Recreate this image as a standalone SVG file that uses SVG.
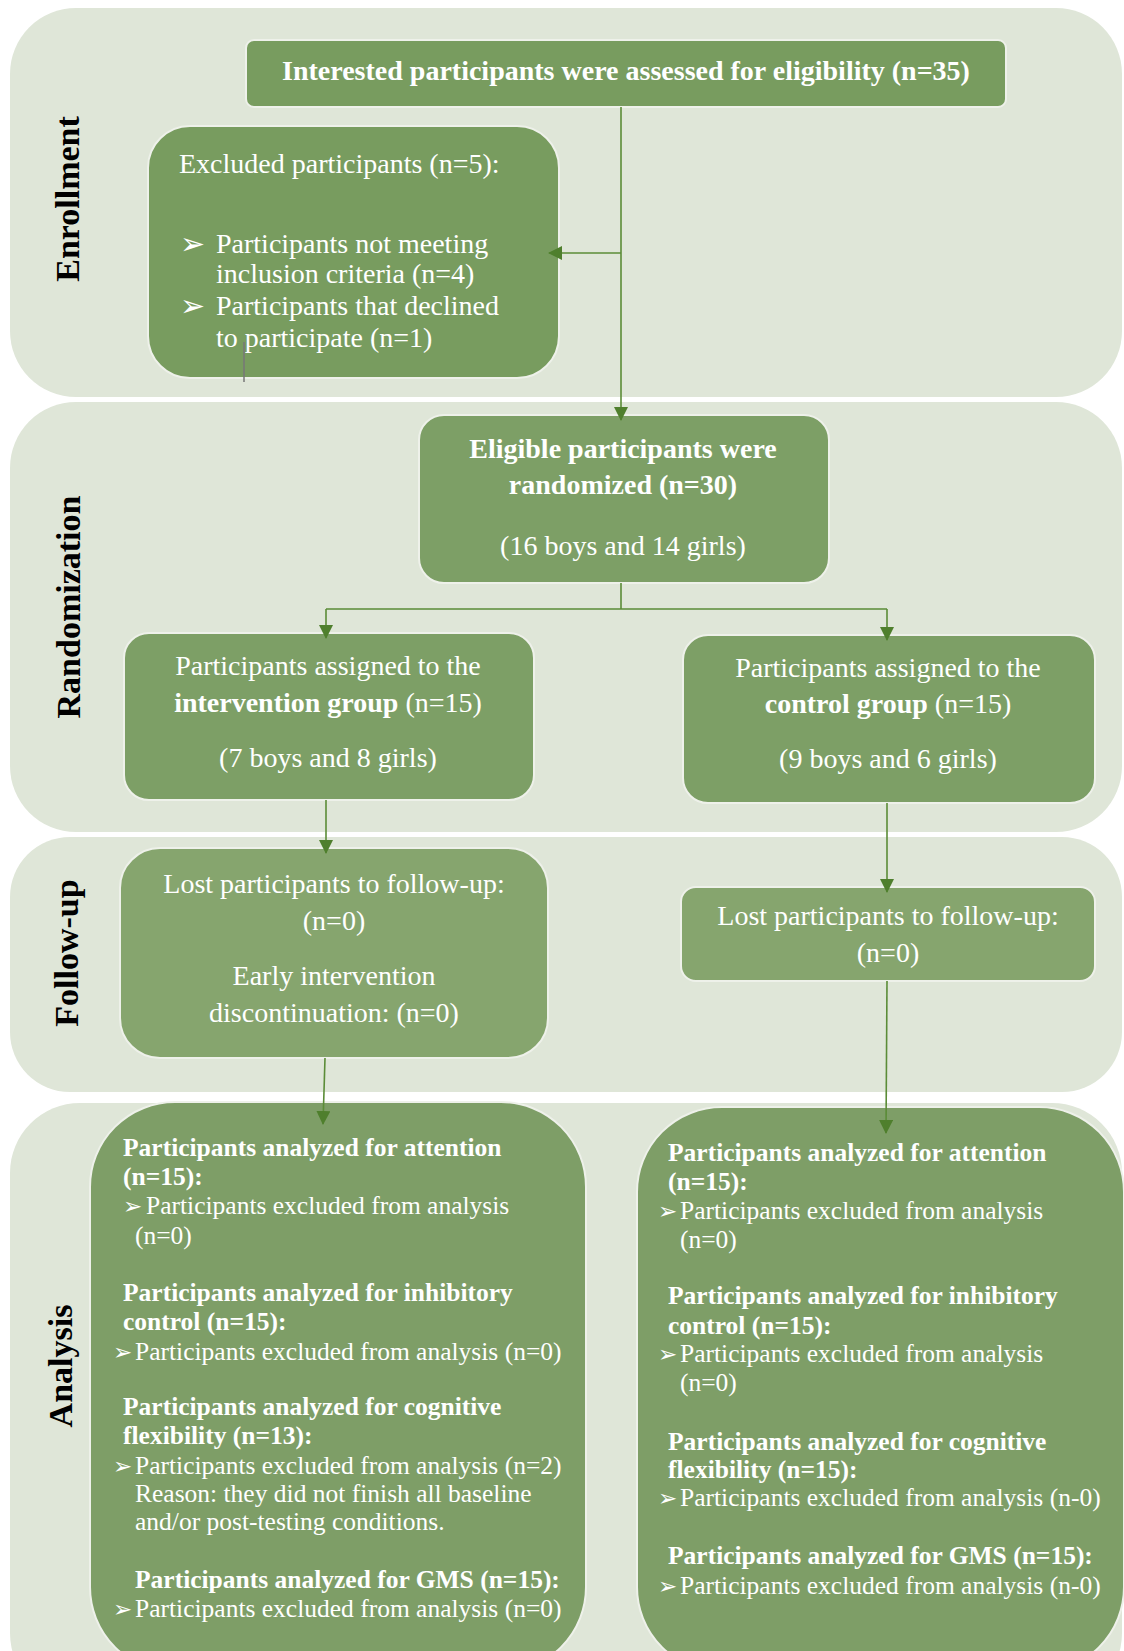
<svg xmlns="http://www.w3.org/2000/svg" width="1124" height="1651" viewBox="0 0 1124 1651">
<defs>
<style>
.band{fill:#dfe6d8}
.box{stroke:#eef1ea;stroke-width:2}
.b1{fill:#789c5f}
.b2{fill:#7d9f66}
.b3{fill:#86a56e}
.b4{fill:#7e9e67}
text{font-family:"Liberation Serif","Times New Roman",serif;fill:#ffffff}
.t28{font-size:28px}
.t25{font-size:25.5px}
.bd{font-weight:bold}
.mid{text-anchor:middle}
.side{font-family:"Liberation Serif","Times New Roman",serif;font-size:34px;font-weight:bold;fill:#000000;text-anchor:middle}
.blt{font-family:"DejaVu Sans",sans-serif}
.ln{stroke:#5b8c37;stroke-width:1.6;fill:none}
</style>
<marker id="ah" viewBox="0 0 14 14" refX="13" refY="7" markerWidth="14" markerHeight="14" markerUnits="userSpaceOnUse" orient="auto">
<path d="M0,0 L14,7 L0,14 Z" fill="#4f7f2d"/>
</marker>
</defs>
<rect width="1124" height="1651" fill="#ffffff"/>

<g id="bands">
<rect class="band" x="10" y="8" width="1112" height="389" rx="66"/>
<rect class="band" x="10" y="402" width="1112" height="430" rx="66"/>
<rect class="band" x="10" y="837" width="1112" height="255" rx="60"/>
<rect class="band" x="10" y="1103" width="1112" height="600" rx="70"/>
</g>

<g id="labels">
<text class="side" transform="translate(79,199) rotate(-90)">Enrollment</text>
<text class="side" transform="translate(80,607) rotate(-90)">Randomization</text>
<text class="side" transform="translate(78,953) rotate(-90)">Follow-up</text>
<text class="side" transform="translate(72,1366) rotate(-90)">Analysis</text>
</g>

<g id="n-assessed">
<rect class="box b1" x="246" y="40" width="760" height="67" rx="8"/>
<text class="t28 bd mid" x="626" y="80">Interested participants were assessed for eligibility (n=35)</text>
</g>

<g id="n-excluded">
<rect class="box b1" x="148" y="126" width="411" height="252" rx="42"/>
<text class="t28" x="179" y="173">Excluded participants (n=5):</text>
<text x="180" y="254" class="blt" font-size="30">➢</text>
<text class="t28" x="216" y="253">Participants not meeting</text>
<text class="t28" x="216" y="283">inclusion criteria (n=4)</text>
<text x="180" y="316" class="blt" font-size="30">➢</text>
<text class="t28" x="216" y="315">Participants that declined</text>
<text class="t28" x="216" y="347">to participate (n=1)</text>
<line x1="244" y1="342" x2="244" y2="382" stroke="#777777" stroke-width="1.5"/>
</g>

<g id="n-eligible">
<rect class="box b2" x="419" y="415" width="410" height="168" rx="25"/>
<text class="t28 bd mid" x="623" y="458">Eligible participants were</text>
<text class="t28 bd mid" x="623" y="494">randomized (n=30)</text>
<text class="t28 mid" x="623" y="555">(16 boys and 14 girls)</text>
</g>

<g id="n-intervention">
<rect class="box b2" x="124" y="633" width="410" height="167" rx="25"/>
<text class="t28 mid" x="328" y="675">Participants assigned to the</text>
<text class="t28 mid" x="328" y="712"><tspan class="bd">intervention group</tspan> (n=15)</text>
<text class="t28 mid" x="328" y="767">(7 boys and 8 girls)</text>
</g>

<g id="n-control">
<rect class="box b2" x="683" y="635" width="412" height="168" rx="25"/>
<text class="t28 mid" x="888" y="677">Participants assigned to the</text>
<text class="t28 mid" x="888" y="713"><tspan class="bd">control group</tspan> (n=15)</text>
<text class="t28 mid" x="888" y="768">(9 boys and 6 girls)</text>
</g>

<g id="n-follow-left">
<rect class="box b3" x="120" y="848" width="428" height="210" rx="40"/>
<text class="t28 mid" x="334" y="893">Lost participants to follow-up:</text>
<text class="t28 mid" x="334" y="930">(n=0)</text>
<text class="t28 mid" x="334" y="985">Early intervention</text>
<text class="t28 mid" x="334" y="1022">discontinuation: (n=0)</text>
</g>

<g id="n-follow-right">
<rect class="box b3" x="681" y="887" width="414" height="94" rx="15"/>
<text class="t28 mid" x="888" y="925">Lost participants to follow-up:</text>
<text class="t28 mid" x="888" y="962">(n=0)</text>
</g>

<g id="n-analysis-left">
<rect class="box b4" x="90" y="1102" width="496" height="570" rx="85"/>
<text class="t25 bd" x="123" y="1156">Participants analyzed for attention</text>
<text class="t25 bd" x="123" y="1185">(n=15):</text>
<text x="123" y="1214" class="blt" font-size="23">➢</text>
<text class="t25" x="146" y="1214">Participants excluded from analysis</text>
<text class="t25" x="135" y="1244">(n=0)</text>
<text class="t25 bd" x="123" y="1301">Participants analyzed for inhibitory</text>
<text class="t25 bd" x="123" y="1330">control (n=15):</text>
<text x="113" y="1360" class="blt" font-size="23">➢</text>
<text class="t25" x="135" y="1360">Participants excluded from analysis (n=0)</text>
<text class="t25 bd" x="123" y="1415">Participants analyzed for cognitive</text>
<text class="t25 bd" x="123" y="1444">flexibility (n=13):</text>
<text x="113" y="1474" class="blt" font-size="23">➢</text>
<text class="t25" x="135" y="1474">Participants excluded from analysis (n=2)</text>
<text class="t25" x="135" y="1502">Reason: they did not finish all baseline</text>
<text class="t25" x="135" y="1530">and/or post-testing conditions.</text>
<text class="t25 bd" x="135" y="1588">Participants analyzed for GMS (n=15):</text>
<text x="113" y="1617" class="blt" font-size="23">➢</text>
<text class="t25" x="135" y="1617">Participants excluded from analysis (n=0)</text>
</g>

<g id="n-analysis-right">
<rect class="box b4" x="637" y="1107" width="487" height="565" rx="85"/>
<text class="t25 bd" x="668" y="1161">Participants analyzed for attention</text>
<text class="t25 bd" x="668" y="1190">(n=15):</text>
<text x="658" y="1219" class="blt" font-size="23">➢</text>
<text class="t25" x="680" y="1219">Participants excluded from analysis</text>
<text class="t25" x="680" y="1248">(n=0)</text>
<text class="t25 bd" x="668" y="1304">Participants analyzed for inhibitory</text>
<text class="t25 bd" x="668" y="1334">control (n=15):</text>
<text x="658" y="1362" class="blt" font-size="23">➢</text>
<text class="t25" x="680" y="1362">Participants excluded from analysis</text>
<text class="t25" x="680" y="1391">(n=0)</text>
<text class="t25 bd" x="668" y="1450">Participants analyzed for cognitive</text>
<text class="t25 bd" x="668" y="1478">flexibility (n=15):</text>
<text x="658" y="1506" class="blt" font-size="23">➢</text>
<text class="t25" x="680" y="1506">Participants excluded from analysis (n-0)</text>
<text class="t25 bd" x="668" y="1564">Participants analyzed for GMS (n=15):</text>
<text x="658" y="1594" class="blt" font-size="23">➢</text>
<text class="t25" x="680" y="1594">Participants excluded from analysis (n-0)</text>
</g>

<g id="connectors">
<path class="ln" d="M621,107 L621,420" marker-end="url(#ah)"/>
<path class="ln" d="M621,253 L549,253" marker-end="url(#ah)"/>
<path class="ln" d="M621,583 L621,609 M326,609 L887,609"/>
<path class="ln" d="M326,609 L326,638" marker-end="url(#ah)"/>
<path class="ln" d="M887,609 L887,640" marker-end="url(#ah)"/>
<path class="ln" d="M326,800 L326,853" marker-end="url(#ah)"/>
<path class="ln" d="M887,803 L887,892" marker-end="url(#ah)"/>
<path class="ln" d="M325,1058 L323,1124" marker-end="url(#ah)"/>
<path class="ln" d="M887,981 L886,1133" marker-end="url(#ah)"/>
</g>
</svg>
